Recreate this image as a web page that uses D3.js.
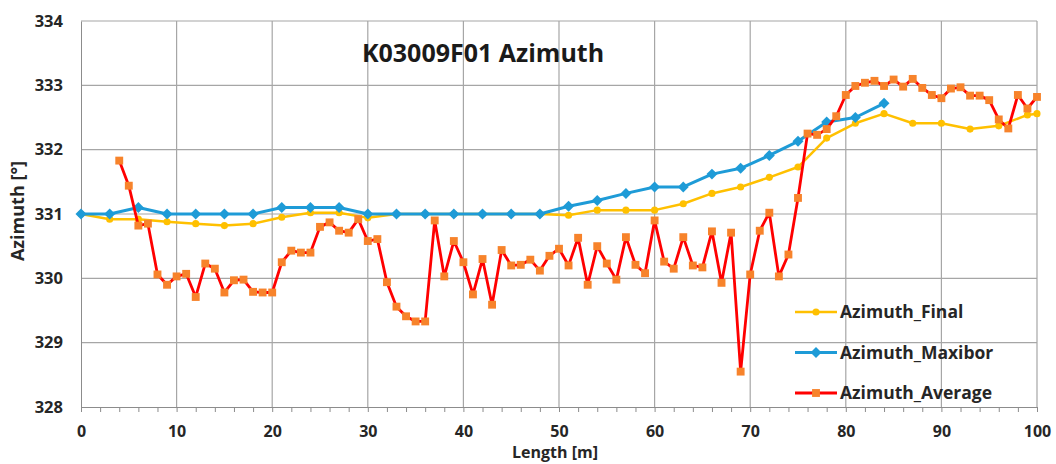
<!DOCTYPE html>
<html>
<head>
<meta charset="utf-8">
<script src="https://cdn.jsdelivr.net/npm/d3@7"></script>
<style>
  body { margin: 0; background: #fff; }
  svg { display: block; font-family: "Open Sans", sans-serif; }
</style>
</head>
<body>
<svg id="chart" width="1056" height="464"></svg>
<script>
// Data
var finalX = [0, 3, 6, 9, 12, 15, 18, 21, 24, 27, 30, 33, 36, 39, 42, 45, 48, 51, 54, 57, 60, 63, 66, 69, 72, 75, 78, 81, 84, 87, 90, 93, 96, 99, 100];
var finalY = [331.0, 330.92, 330.92, 330.88, 330.85, 330.82, 330.85, 330.95, 331.02, 331.02, 330.94, 331.0, 331.0, 331.0, 331.0, 331.0, 331.0, 330.98, 331.06, 331.06, 331.06, 331.16, 331.32, 331.42, 331.57, 331.73, 332.18, 332.41, 332.56, 332.41, 332.41, 332.32, 332.37, 332.54, 332.56];

var maxiborX = [0, 3, 6, 9, 12, 15, 18, 21, 24, 27, 30, 33, 36, 39, 42, 45, 48, 51, 54, 57, 60, 63, 66, 69, 72, 75, 78, 81, 84];
var maxiborY = [331.0, 331.0, 331.1, 331.0, 331.0, 331.0, 331.0, 331.1, 331.1, 331.1, 331.0, 331.0, 331.0, 331.0, 331.0, 331.0, 331.0, 331.12, 331.21, 331.32, 331.42, 331.42, 331.62, 331.71, 331.91, 332.13, 332.43, 332.5, 332.72];

var averageX = [4, 5, 6, 7, 8, 9, 10, 11, 12, 13, 14, 15, 16, 17, 18, 19, 20, 21, 22, 23, 24, 25, 26, 27, 28, 29, 30, 31, 32, 33, 34, 35, 36, 37, 38, 39, 40, 41, 42, 43, 44, 45, 46, 47, 48, 49, 50, 51, 52, 53, 54, 55, 56, 57, 58, 59, 60, 61, 62, 63, 64, 65, 66, 67, 68, 69, 70, 71, 72, 73, 74, 75, 76, 77, 78, 79, 80, 81, 82, 83, 84, 85, 86, 87, 88, 89, 90, 91, 92, 93, 94, 95, 96, 97, 98, 99, 100];
var averageY = [331.83, 331.44, 330.82, 330.85, 330.06, 329.9, 330.03, 330.07, 329.71, 330.23, 330.15, 329.78, 329.97, 329.98, 329.79, 329.78, 329.78, 330.25, 330.43, 330.4, 330.4, 330.8, 330.87, 330.74, 330.71, 330.92, 330.58, 330.61, 329.94, 329.56, 329.41, 329.33, 329.33, 330.9, 330.03, 330.58, 330.25, 329.75, 330.3, 329.59, 330.44, 330.2, 330.21, 330.29, 330.12, 330.35, 330.46, 330.2, 330.63, 329.9, 330.5, 330.23, 329.98, 330.64, 330.21, 330.08, 330.9, 330.26, 330.15, 330.64, 330.2, 330.17, 330.73, 329.93, 330.71, 328.55, 330.06, 330.74, 331.02, 330.03, 330.37, 331.25, 332.25, 332.23, 332.32, 332.52, 332.85, 332.99, 333.04, 333.07, 332.99, 333.09, 332.98, 333.1, 332.96, 332.85, 332.8, 332.95, 332.97, 332.84, 332.84, 332.77, 332.47, 332.33, 332.85, 332.64, 332.82];

var xTicks = [0, 10, 20, 30, 40, 50, 60, 70, 80, 90, 100];
var xMinorTicks = d3.range(0, 101, 2);
var yTicks = [328, 329, 330, 331, 332, 333, 334];

var series = [
  {name: "Azimuth_Final", xs: finalX, ys: finalY, line: "#ffc000", fill: "#ffc000", marker: "circle", width: 2.5},
  {name: "Azimuth_Maxibor", xs: maxiborX, ys: maxiborY, line: "#1e9bd7", fill: "#1e9bd7", marker: "diamond", width: 3},
  {name: "Azimuth_Average", xs: averageX, ys: averageY, line: "#ff0000", fill: "#f7832b", marker: "square", width: 2.8}
];

var svg = d3.select("svg#chart");
var margin = {top: 21, right: 19, bottom: 57, left: 81},
    width = 1056 - margin.left - margin.right,
    height = 464 - margin.top - margin.bottom;

var container = svg.append("g")
    .attr("transform", "translate(" + margin.left + "," + margin.top + ")");

var x = d3.scaleLinear().domain([0, 100]).range([0, width]);
var y = d3.scaleLinear().domain([328, 334]).range([height, 0]);

// Gridlines
container.append("g")
    .selectAll("line.v")
    .data(xTicks.slice(1))
  .enter().append("line")
    .attr("x1", function(d) { return x(d); })
    .attr("x2", function(d) { return x(d); })
    .attr("y1", 0).attr("y2", height)
    .style("stroke", "#a6a6a6").style("stroke-width", 1.2);

container.append("g")
    .selectAll("line.h")
    .data(yTicks.slice(1))
  .enter().append("line")
    .attr("x1", 0).attr("x2", width)
    .attr("y1", function(d) { return y(d); })
    .attr("y2", function(d) { return y(d); })
    .style("stroke", "#a6a6a6").style("stroke-width", 1.2);

// Axes
var xAxis = container.append("g")
    .attr("transform", "translate(0," + height + ")")
    .call(d3.axisBottom(x).tickValues(xMinorTicks).tickSize(5).tickFormat(""));
xAxis.select(".domain").style("stroke", "#8c8c8c");
xAxis.selectAll(".tick line").style("stroke", "#8c8c8c");

var xLabels = container.append("g")
    .attr("transform", "translate(0," + height + ")")
    .call(d3.axisBottom(x).tickValues(xTicks).tickSize(0).tickPadding(19).tickFormat(d3.format("d")));
xLabels.select(".domain").remove();
xLabels.selectAll("text")
    .style("font-family", "Open Sans").style("font-size", "16px")
    .style("font-weight", "bold").style("fill", "#262626");

var yAxis = container.append("g")
    .call(d3.axisLeft(y).tickValues(yTicks).tickSize(0).tickPadding(18).tickFormat(d3.format("d")));
yAxis.select(".domain").style("stroke", "#8c8c8c");
yAxis.selectAll("text")
    .style("font-family", "Open Sans").style("font-size", "16.5px")
    .style("font-weight", "bold").style("fill", "#262626");

// Series markers: the diamond is a square turned 45 degrees, like Excel's
var markerSym = {circle: d3.symbolCircle, diamond: d3.symbolSquare, square: d3.symbolSquare};
var markerSize = {circle: 40, diamond: 60, square: 62};
var markerRot = {circle: 0, diamond: 45, square: 0};

series.forEach(function(s) {
  var pts = s.xs.map(function(d, i) { return [d, s.ys[i]]; });
  var line = d3.line()
      .x(function(d) { return x(d[0]); })
      .y(function(d) { return y(d[1]); });
  container.append("path")
      .datum(pts)
      .attr("d", line)
      .style("fill", "none")
      .style("stroke", s.line)
      .style("stroke-width", s.width)
      .style("stroke-linejoin", "round");
  container.append("g")
      .selectAll("path")
      .data(pts)
    .enter().append("path")
      .attr("transform", function(d) {
        return "translate(" + x(d[0]) + "," + y(d[1]) + ") rotate(" + markerRot[s.marker] + ")"; })
      .attr("d", d3.symbol().type(markerSym[s.marker]).size(markerSize[s.marker]))
      .style("fill", s.fill);
});

// Legend
var legend = svg.append("g").attr("transform", "translate(795,312)");
series.forEach(function(s, i) {
  var g = legend.append("g").attr("transform", "translate(0," + (i * 40.5) + ")");
  g.append("line")
      .attr("x1", 0).attr("x2", 42)
      .style("stroke", s.line).style("stroke-width", s.width);
  g.append("path")
      .attr("transform", "translate(21,0) rotate(" + markerRot[s.marker] + ")")
      .attr("d", d3.symbol().type(markerSym[s.marker]).size(markerSize[s.marker]))
      .style("fill", s.fill);
  g.append("text")
      .attr("x", 45).attr("dy", "0.35em")
      .style("font-size", "17.5px").style("font-weight", "bold").style("fill", "#262626")
      .text(s.name);
});

// Title and axis labels
svg.append("text")
    .attr("x", 483).attr("y", 62)
    .attr("text-anchor", "middle")
    .style("font-size", "25px").style("font-weight", "bold").style("fill", "#1a1a1a")
    .text("K03009F01 Azimuth");

svg.append("text")
    .attr("x", margin.left + width / 2 - 4).attr("y", 458)
    .attr("text-anchor", "middle")
    .style("font-size", "16px").style("font-weight", "bold").style("fill", "#262626")
    .text("Length [m]");

svg.append("text")
    .attr("transform", "translate(24,211) rotate(-90)")
    .attr("text-anchor", "middle")
    .style("font-size", "18px").style("font-weight", "bold").style("fill", "#262626")
    .text("Azimuth [°]");
</script>
</body>
</html>
